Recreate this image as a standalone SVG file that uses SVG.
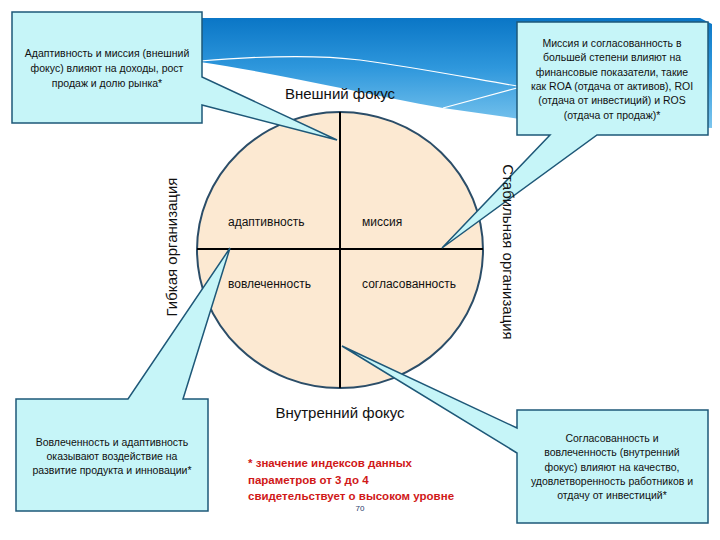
<svg xmlns="http://www.w3.org/2000/svg" width="720" height="540" viewBox="0 0 720 540">
<defs>
<linearGradient id="band" x1="0" y1="0" x2="0" y2="1">
<stop offset="0" stop-color="#0A76C6"/>
<stop offset="0.45" stop-color="#2E97DC"/>
<stop offset="1" stop-color="#7CC6EE"/>
</linearGradient>
<style>
.callout{fill:#C6F5F8;stroke:#1E5878;stroke-width:1.5;stroke-linejoin:miter}
.ct{font-family:"Liberation Sans",Arial,sans-serif;font-size:10.5px;fill:#111;text-anchor:middle}
.q{font-family:"Liberation Sans",Arial,sans-serif;font-size:12px;fill:#111}
.big{font-family:"Liberation Sans",Arial,sans-serif;font-size:15px;fill:#111;text-anchor:middle}
.red{font-family:"Liberation Sans",Arial,sans-serif;font-size:11.5px;font-weight:bold;fill:#D01818}
.axis{stroke:#000;stroke-width:2}
</style>
</defs>
<rect width="720" height="540" fill="#fff"/>
<g id="band-decor">
<path d="M150,18 L700,18 L712,24 L712,128 L520,119 L443,108 C360,93 270,72 200,62 L150,60 Z" fill="url(#band)"/>
<path d="M200,61 C260,56 320,55 360,60 C420,68 480,80 517,86" fill="none" stroke="#fff" stroke-width="1.2"/>
<path d="M443,108 L517,88" fill="none" stroke="#fff" stroke-width="1.2"/>
</g>
<g id="circle">
<ellipse cx="340" cy="250" rx="143" ry="138" fill="#FCE9D2" stroke="#2B4D68" stroke-width="2"/>
<line class="axis" x1="340" y1="112" x2="340" y2="388"/>
<line class="axis" x1="197" y1="249" x2="483" y2="249"/>
<text class="q" x="228" y="226">адаптивность</text>
<text class="q" x="362" y="226">миссия</text>
<text class="q" x="228" y="288">вовлеченность</text>
<text class="q" x="362" y="288">согласованность</text>
</g>
<g id="callout-top-left">
<path class="callout" d="M12,12 H202 V77 L337,140 L202,105 V123 H12 Z"/>
<text class="ct" x="107" y="57">Адаптивность и миссия (внешний</text>
<text class="ct" x="107" y="72">фокус) влияют на доходы, рост</text>
<text class="ct" x="107" y="87">продаж и долю рынка*</text>
</g>
<g id="callout-top-right">
<path class="callout" d="M517,22 H708 V135 H597 L442,248 L550,135 H517 Z"/>
<text class="ct" x="612" y="47">Миссия и согласованность в</text>
<text class="ct" x="612" y="61">большей степени влияют на</text>
<text class="ct" x="612" y="76">финансовые показатели, такие</text>
<text class="ct" x="612" y="90">как ROA (отдача от активов), ROI</text>
<text class="ct" x="612" y="104">(отдача от инвестиций) и ROS</text>
<text class="ct" x="612" y="119">(отдача от продаж)*</text>
</g>
<g id="callout-bottom-left">
<path class="callout" d="M16,399 H128 L230,248 L183,399 H208 V511 H16 Z"/>
<text class="ct" x="112" y="446">Вовлеченность и адаптивность</text>
<text class="ct" x="112" y="460">оказывают воздействие на</text>
<text class="ct" x="112" y="474">развитие продукта и инновации*</text>
</g>
<g id="callout-bottom-right">
<path class="callout" d="M517,410 H708 V523 H517 V453 L342,346 L517,428 Z"/>
<text class="ct" x="612" y="442">Согласованность и</text>
<text class="ct" x="612" y="456">вовлеченность (внутренний</text>
<text class="ct" x="612" y="471">фокус) влияют на качество,</text>
<text class="ct" x="612" y="485">удовлетворенность работников и</text>
<text class="ct" x="612" y="499">отдачу от инвестиций*</text>
</g>
<g id="axis-labels">
<text class="big" x="340" y="99">Внешний фокус</text>
<text class="big" x="340" y="418">Внутренний фокус</text>
<text class="big" transform="translate(177,247) rotate(-90)">Гибкая организация</text>
<text class="big" transform="translate(503,252) rotate(90)">Стабильная организация</text>
</g>
<g id="note">
<text class="red" x="248" y="467">* значение индексов данных</text>
<text class="red" x="248" y="484">параметров от 3 до 4</text>
<text class="red" x="248" y="500">свидетельствует о высоком уровне</text>
<text x="360" y="511" font-family="'Liberation Sans',Arial,sans-serif" font-size="8" fill="#1F3A6A" text-anchor="middle">70</text>
</g>
</svg>
